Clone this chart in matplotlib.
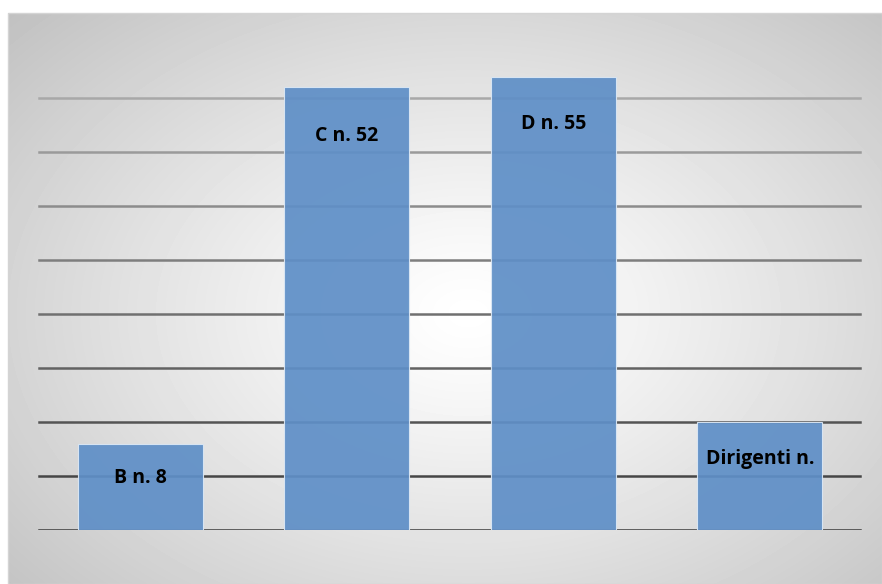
import numpy as np
import matplotlib
matplotlib.use("Agg")
import matplotlib.pyplot as plt
from matplotlib.patches import Rectangle

categorie = ["B", "C", "D", "Dirigenti"]
valori = [16, 82, 84, 20]
etichette = ["B n. 8", "C n. 52", "D n. 55", "Dirigenti n."]
griglia = [10, 20, 30, 40, 50, 60, 70, 80]

W, H = 882, 584
fig = plt.figure(figsize=(W / 100, H / 100), dpi=100)

# sfondo con sfumatura radiale
sx0, sy0 = 8 / W, 0
sw, sh = 1 - sx0, (H - 13) / H
bg = fig.add_axes([sx0, sy0, sw, sh])
yy, xx = np.mgrid[0:571, 0:874]
cx, cy = 460, 300
r = np.sqrt(((xx - cx) / 620) ** 2 + ((yy - cy) / 430) ** 2)
grad = np.clip(1 - 0.24 * r ** 1.2, 0, 1)
bg.imshow(grad, cmap="gray", vmin=0, vmax=1, aspect="auto",
          extent=[0, 1, 0, 1], interpolation="bilinear")
bg.set_xlim(0, 1)
bg.set_ylim(0, 1)
bg.axis("off")
fig.add_artist(Rectangle((sx0, sy0), sw, sh, transform=fig.transFigure,
                         fill=False, edgecolor="#d4d4d4", linewidth=1))

# area del grafico
ax_left, ax_right = 37 / W, 863 / W
ax_bottom = (H - 530) / H
ax_top = (H - 55) / H
ax = fig.add_axes([ax_left, ax_bottom, ax_right - ax_left, ax_top - ax_bottom])
ax.set_facecolor("none")
ax.set_xlim(-0.5, len(categorie) - 0.5)
ax.set_ylim(0, 88)

# linee di griglia, più scure verso il basso
livelli = [0] + griglia
for g in livelli:
    t = g / max(livelli)
    c = 0.22 + 0.44 * t
    ax.axhline(g, xmin=0.002, xmax=0.996, color=(c, c, c), linewidth=1.8, zorder=1)

x = np.arange(len(categorie))
ax.bar(x, valori, width=0.605, color="#5f8fc7", alpha=0.93,
       edgecolor="#dce8f5", linewidth=0.8, zorder=2)

cali = ["Open Sans", "DejaVu Sans"]
scarto = [34, 49, 47, 37]
for xi, v, lab, s in zip(x, valori, etichette, scarto):
    ax.annotate(lab, (xi, v), xytext=(0, -s), textcoords="offset pixels",
                ha="center", va="center", fontsize=14, fontweight="bold",
                family=cali, color="black", zorder=3)

for sp in ax.spines.values():
    sp.set_visible(False)
ax.set_xticks([])
ax.set_yticks([])

fig.savefig("out.png", dpi=100)
